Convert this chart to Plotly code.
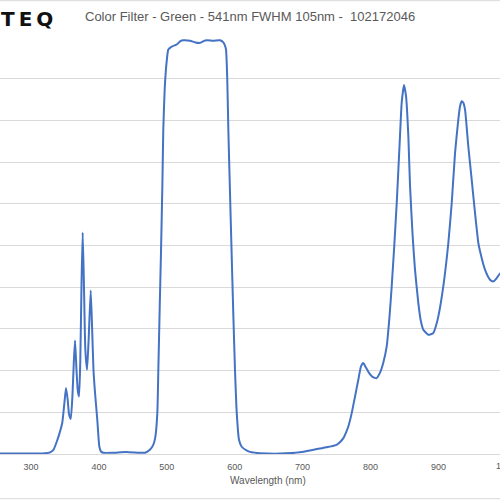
import plotly.graph_objects as go

wavelength = [254, 280, 300, 320, 328, 333, 338, 342, 346, 349, 351.5, 354, 356, 358.5, 361, 363,
              364.8, 367, 369, 370.7, 372.5, 374.5, 376.1, 378, 380, 382.5, 385, 387.9, 390, 392,
              394.3, 397.6, 400.6, 403, 406.5, 420, 440, 460, 468, 475, 480, 483, 486, 487.5,
              489.5, 491.5, 493.5, 494.8, 497, 500, 502.2, 507.2, 514.6, 520, 524.3, 534.2, 542,
              548.9, 554, 558.8, 568.5, 578.4, 583.2, 585.5, 587.2, 589, 590.6, 593, 595.3, 598,
              600.4, 603, 606.3, 610, 618, 625, 637, 667, 696, 716, 735, 750, 756, 760, 764,
              767.3, 772.3, 777.2, 782, 786, 789.4, 793, 798, 803, 809, 814, 819, 824, 828,
              831.2, 835, 838.6, 843.4, 845.9, 849.3, 852.3, 855.7, 858.2, 862.1, 865.5, 870.4,
              874, 877.8, 885.1, 892.5, 896, 899.9, 907.2, 914.6, 919.6, 924.5, 929.3, 932, 934.3,
              936.5, 939.2, 944, 949, 953.9, 958.8, 961.3, 968.6, 976, 980.9, 985.9, 991]
transmission = [0.1, 0.1, 0.1, 0.2, 0.4, 1.0, 3.0, 5.0, 7.5, 12, 15.8, 13, 9.5, 8.4, 14, 22,
                27.2, 20, 15, 13.8, 22, 42, 53.1, 40, 25, 20.2, 28, 39.2, 30, 20,
                14.6, 8.2, 1.8, 0.6, 0.3, 0.3, 0.5, 0.3, 0.3, 1.0, 2.2, 4.0, 9.8, 20.2,
                35, 49, 65, 77.8, 88, 94.5, 97.0, 97.7, 98.2, 99.0, 99.2, 99.1, 98.7,
                98.6, 99.0, 99.2, 99.1, 99.2, 98.7, 98.0, 97.0, 90, 77.8, 63, 49, 33,
                20.2, 9.8, 3.4, 1.8, 0.8, 0.4, 0.2, 0.1, 0.4, 1.0, 1.6, 2.2, 3.0, 3.8, 5.2,
                6.6, 9.8, 13.8, 17.8, 21, 21.8, 20.8, 19.4, 18.5, 18.2, 19.5, 22, 26, 33,
                40.2, 50, 60.2, 76.2, 84.2, 88.5, 85.8, 76.2, 64.2, 52.2, 44.2, 36.2,
                32, 29.8, 28.6, 29.0, 30.5, 33.0, 40.2, 50.6, 60.2, 72.2, 80.2, 83.5, 84.6,
                84.3, 82.6, 73.8, 65.8, 57.8, 50.6, 48.6, 44.2, 41.8, 41.4, 42.2, 43.4]

tick_vals = [300, 400, 500, 600, 700, 800, 900]
tick_text = ["300", "400", "500", "600", "700", "800", "900"]

title_text = "Color Filter - Green - 541nm FWHM 105nm -  102172046"
x_title = "Wavelength (nm)"
logo_text = "T\u2009E\u2009Q"

fig = go.Figure()
fig.add_trace(go.Scatter(
    x=wavelength, y=transmission, mode="lines",
    line=dict(color="#4472C4", width=2, shape="spline", smoothing=0.5),
    hoverinfo="skip", showlegend=False,
))

fig.update_layout(
    width=500, height=500,
    margin=dict(l=0, r=0, t=37, b=46),
    paper_bgcolor="white", plot_bgcolor="white",
    font=dict(family="Liberation Sans, Arial, sans-serif", color="#595959"),
    xaxis=dict(range=[254.3, 990.7], tickvals=tick_vals, ticktext=tick_text,
               showgrid=False, zeroline=False, showline=True, linecolor="#d9d9d9",
               linewidth=1, ticks="outside", ticklen=4, tickcolor="rgba(0,0,0,0)",
               tickfont=dict(size=9, color="#595959")),
    yaxis=dict(range=[0, 100], dtick=10, showgrid=True, gridcolor="#d9d9d9",
               gridwidth=1, zeroline=False, showline=False, showticklabels=False,
               ticks=""),
    annotations=[
        dict(text=title_text, xref="paper", yref="paper", x=0.5, y=(454.3 - 17) / 417,
             xanchor="center", yanchor="middle", showarrow=False,
             font=dict(size=13, color="#595959")),
        dict(text="<b>" + logo_text + "</b>", xref="paper", yref="paper", x=-1 / 500,
             y=(454.3 - 19) / 417, xanchor="left", yanchor="middle", showarrow=False,
             font=dict(size=20, color="#111111", family="DejaVu Sans, sans-serif")),
        dict(text=x_title, xref="paper", yref="paper", x=268 / 500, y=-(481 - 454.3) / 417,
             xanchor="center", yanchor="middle", showarrow=False,
             font=dict(size=10, color="#595959")),
        dict(text="1000", xref="paper", yref="paper", x=506 / 500, y=-(466.5 - 454.3) / 417,
             xanchor="center", yanchor="middle", showarrow=False,
             font=dict(size=9, color="#595959")),
    ],
    shapes=[
        dict(type="line", xref="paper", yref="paper", x0=0, x1=1,
             y0=(454.3 - 1) / 417, y1=(454.3 - 1) / 417, line=dict(color="#d9d9d9", width=1)),
        dict(type="line", xref="paper", yref="paper", x0=0, x1=1,
             y0=-(499 - 454.3) / 417, y1=-(499 - 454.3) / 417, line=dict(color="#d9d9d9", width=1)),
    ],
)

fig.write_html("out.html", config={"displayModeBar": False},
               post_script="document.body.style.margin='0px';")
